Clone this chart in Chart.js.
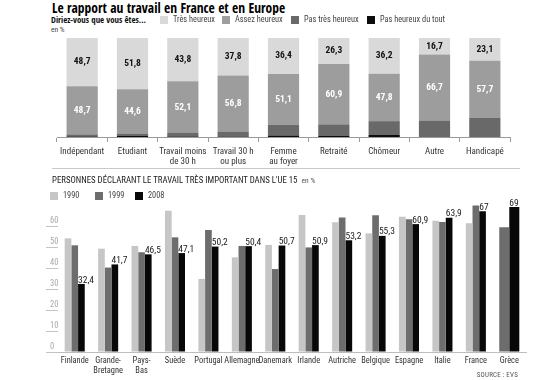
<!DOCTYPE html>
<html lang="fr">
<head>
<meta charset="utf-8">
<title>Le rapport au travail en France et en Europe</title>
<script src="https://cdn.jsdelivr.net/npm/chart.js@4/dist/chart.umd.min.js"></script>
<style>
  html, body { margin: 0; padding: 0; background: #fff; }
  body { width: 550px; height: 380px; position: relative; overflow: hidden;
         font-family: "Roboto Condensed", Roboto, sans-serif; color: #333;
         -webkit-font-smoothing: antialiased; }
  .abs { position: absolute; white-space: nowrap; }
  #title { left: 52px; top: -1px; font: bold 13.5px "Open Sans Condensed", "Roboto Condensed", sans-serif; color: #000; }
  #question { left: 51px; top: 14px; font: bold 8.8px "Open Sans Condensed", "Roboto Condensed", sans-serif; color: #111; }
  #unit { left: 51px; top: 25px; font-size: 7.5px; color: #444; }
  .sq { position: absolute; width: 8px; height: 8px; }
  .keytext { position: absolute; font-size: 8.3px; line-height: 9px; color: #444; white-space: nowrap;
             will-change: transform; background: #fff; }
  #sep { left: 52px; top: 168px; width: 468px; height: 0; border-top: 1.5px solid #c8c8c8; }
  #subtitle { left: 52px; top: 175px; font-size: 8.8px; color: #222; }
  #subtitle small { font-size: 7.5px; color: #555; }
  #source { right: 32px; top: 371px; font-size: 7px; color: #555; letter-spacing: 0.2px; }
  canvas { position: absolute; left: 0; }
  #happy { top: 34px; }
  #importance { top: 190px; }
</style>
</head>
<body>
<div id="title" class="abs">Le rapport au travail en France et en Europe</div>
<div id="question" class="abs">Diriez-vous que vous êtes...</div>
<div id="unit" class="abs">en %</div>
<div id="legendTop"></div>

<canvas id="happy" width="550" height="136"></canvas>

<div id="sep" class="abs"></div>
<div id="subtitle" class="abs">PERSONNES DÉCLARANT LE TRAVAIL TRÈS IMPORTANT DANS L'UE 15 &nbsp;<small>en %</small></div>
<div id="legendBottom"></div>

<canvas id="importance" width="550" height="190"></canvas>
<div id="source" class="abs">SOURCE : EVS</div>

<script>
// --- top chart : "Diriez-vous que vous êtes..." (stacked, %)
const statusLabels = [
  "Indépendant", "Etudiant", ["Travail moins", "de 30 h"], ["Travail 30 h", "ou plus"],
  ["Femme", "au foyer"], "Retraité", "Chômeur", "Autre", "Handicapé",
];
const tresHeureux = [48.7, 51.8, 43.8, 37.8, 36.4, 26.3, 36.2, 16.7, 23.1];
const assezHeureux = [48.7, 44.6, 52.1, 56.8, 51.1, 60.9, 47.8, 66.7, 57.7];
const pasTresHeureux = [2.0, 2.6, 3.5, 4.9, 11.0, 11.8, 14.0, 16.6, 19.2];
const pasHeureuxDuTout = [0.6, 1.0, 0.6, 0.5, 1.5, 1.0, 2.0, 0, 0];

// --- bottom chart : travail très important (UE 15)
const countries = [
  "Finlande", ["Grande-", "Bretagne"], ["Pays-", "Bas"], "Suède", "Portugal",
  "Allemagne", "Danemark", "Irlande", "Autriche", "Belgique", "Espagne",
  "Italie", "France", "Grèce",
];
const values1990 = [54.1, 49.2, 50.5, 67.3, 34.8, 45.1, 51.0, 65.2, 61.8, 56.5, 64.4, 62.5, 61.3, null];
const values1999 = [50.8, 40.2, 47.5, 54.6, 58.1, 50.5, 39.5, 49.8, 64.1, 65.1, 63.2, 61.9, 69.8, 59.4];
const values2008 = [32.4, 41.7, 46.5, 47.1, 50.2, 50.4, 50.7, 50.9, 53.2, 55.3, 60.9, 63.9, 67, 69];
const importanceTicks = [0, 10, 20, 30, 40, 50, 60];

const NARROW = '"Roboto Condensed", Roboto, sans-serif';

const colors = {
  tres: "#d9d9d9",
  assez: "#9d9d9d",
  pasTres: "#696969",
  pasDuTout: "#0d0d0d",
  y1990: "#c6c6c6",
  y1999: "#6d6d6d",
  y2008: "#080808",
};

function frNumber(v, digits) {
  const s = digits === undefined ? String(v) : v.toFixed(digits);
  return s.replace(".", ",");
}

// html legends : a square and its text
function addKey(parentId, left, top, color, text) {
  const parent = document.getElementById(parentId);
  const sq = document.createElement("div");
  sq.className = "sq";
  sq.style.left = left + "px";
  sq.style.top = top + "px";
  sq.style.backgroundColor = color;
  const label = document.createElement("div");
  label.className = "keytext";
  label.style.left = left + 13 + "px";
  label.style.top = top - 1 + "px";
  label.textContent = text;
  parent.appendChild(sq);
  parent.appendChild(label);
}
addKey("legendTop", 160, 16, colors.tres, "Très heureux");
addKey("legendTop", 222, 16, colors.assez, "Assez heureux");
addKey("legendTop", 291, 16, colors.pasTres, "Pas très heureux");
addKey("legendTop", 367, 16, colors.pasDuTout, "Pas heureux du tout");

addKey("legendBottom", 50, 192, colors.y1990, "1990");
addKey("legendBottom", 95, 192, colors.y1999, "1999");
addKey("legendBottom", 135, 192, colors.y2008, "2008");

// values written inside the two upper segments
const segmentLabels = {
  id: "segmentLabels",
  afterDatasetsDraw(chart) {
    const ctx = chart.ctx;
    ctx.save();
    ctx.font = "bold 9.5px " + NARROW;
    ctx.textAlign = "center";
    ctx.textBaseline = "middle";
    [[2, "#fff"], [3, "#111"]].forEach(([dsIndex, color]) => {
      const meta = chart.getDatasetMeta(dsIndex);
      const data = chart.data.datasets[dsIndex].data;
      ctx.fillStyle = color;
      meta.data.forEach((bar, i) => {
        ctx.fillText(frNumber(data[i], 1), bar.x, (bar.y + bar.base) / 2);
      });
    });
    ctx.restore();
  },
};

new Chart(document.getElementById("happy"), {
  type: "bar",
  data: {
    labels: statusLabels,
    datasets: [
      { label: "Pas heureux du tout", data: pasHeureuxDuTout, backgroundColor: colors.pasDuTout },
      { label: "Pas très heureux", data: pasTresHeureux, backgroundColor: colors.pasTres },
      { label: "Assez heureux", data: assezHeureux, backgroundColor: colors.assez },
      { label: "Très heureux", data: tresHeureux, backgroundColor: colors.tres },
    ],
  },
  options: {
    responsive: false,
    animation: false,
    events: [],
    layout: { padding: { left: 57, right: 40, top: 4, bottom: 0 } },
    datasets: { bar: { categoryPercentage: 1, barPercentage: 0.62, borderWidth: 0 } },
    plugins: { legend: { display: false }, tooltip: { enabled: false } },
    scales: {
      x: {
        stacked: true,
        afterFit: (scale) => { scale.height = 33; },
        border: { color: "#9a9a9a", width: 1 },
        grid: { drawOnChartArea: false, offset: true, tickLength: 5, color: "#9a9a9a" },
        ticks: { color: "#333", padding: 4, maxRotation: 0, autoSkip: false, font: { family: NARROW, size: 9 } },
      },
      y: { stacked: true, display: false, min: 0, max: 100 },
    },
  },
  plugins: [segmentLabels],
});

// 2008 values written just above their bar
const labels2008 = {
  id: "labels2008",
  afterDatasetsDraw(chart) {
    const ctx = chart.ctx;
    const meta = chart.getDatasetMeta(2);
    ctx.save();
    ctx.font = "9.5px " + NARROW;
    ctx.fillStyle = "#222";
    ctx.textAlign = "left";
    ctx.textBaseline = "bottom";
    meta.data.forEach((bar, i) => {
      ctx.fillText(frNumber(values2008[i]), bar.x - bar.width / 2, bar.y + 1);
    });
    ctx.restore();
  },
};

new Chart(document.getElementById("importance"), {
  type: "bar",
  data: {
    labels: countries,
    datasets: [
      { label: "1990", data: values1990, backgroundColor: colors.y1990 },
      { label: "1999", data: values1999, backgroundColor: colors.y1999 },
      { label: "2008", data: values2008, backgroundColor: colors.y2008 },
    ],
  },
  options: {
    responsive: false,
    animation: false,
    events: [],
    layout: { padding: { left: 50, right: 24, top: 15, bottom: 0 } },
    datasets: { bar: { categoryPercentage: 0.6, barPercentage: 1, borderWidth: 0, skipNull: true } },
    plugins: { legend: { display: false }, tooltip: { enabled: false } },
    scales: {
      x: {
        afterFit: (scale) => { scale.height = 28; },
        border: { color: "#bdbdbd", width: 1 },
        grid: { display: false, drawTicks: false },
        ticks: { color: "#333", padding: 4, maxRotation: 0, autoSkip: false, font: { family: NARROW, size: 8.4 } },
      },
      y: {
        min: 0,
        max: 70,
        afterFit: (scale) => { scale.width = 8; },
        afterBuildTicks: (scale) => {
          scale.ticks = importanceTicks.map((v) => ({ value: v }));
        },
        border: { display: false },
        grid: { drawOnChartArea: false, tickLength: 12, color: "#c4c4c4" },
        ticks: { color: "#a8a8a8", crossAlign: "far", labelOffset: -5, padding: 0, font: { family: NARROW, size: 8.5 } },
      },
    },
  },
  plugins: [labels2008],
});
</script>
</body>
</html>
